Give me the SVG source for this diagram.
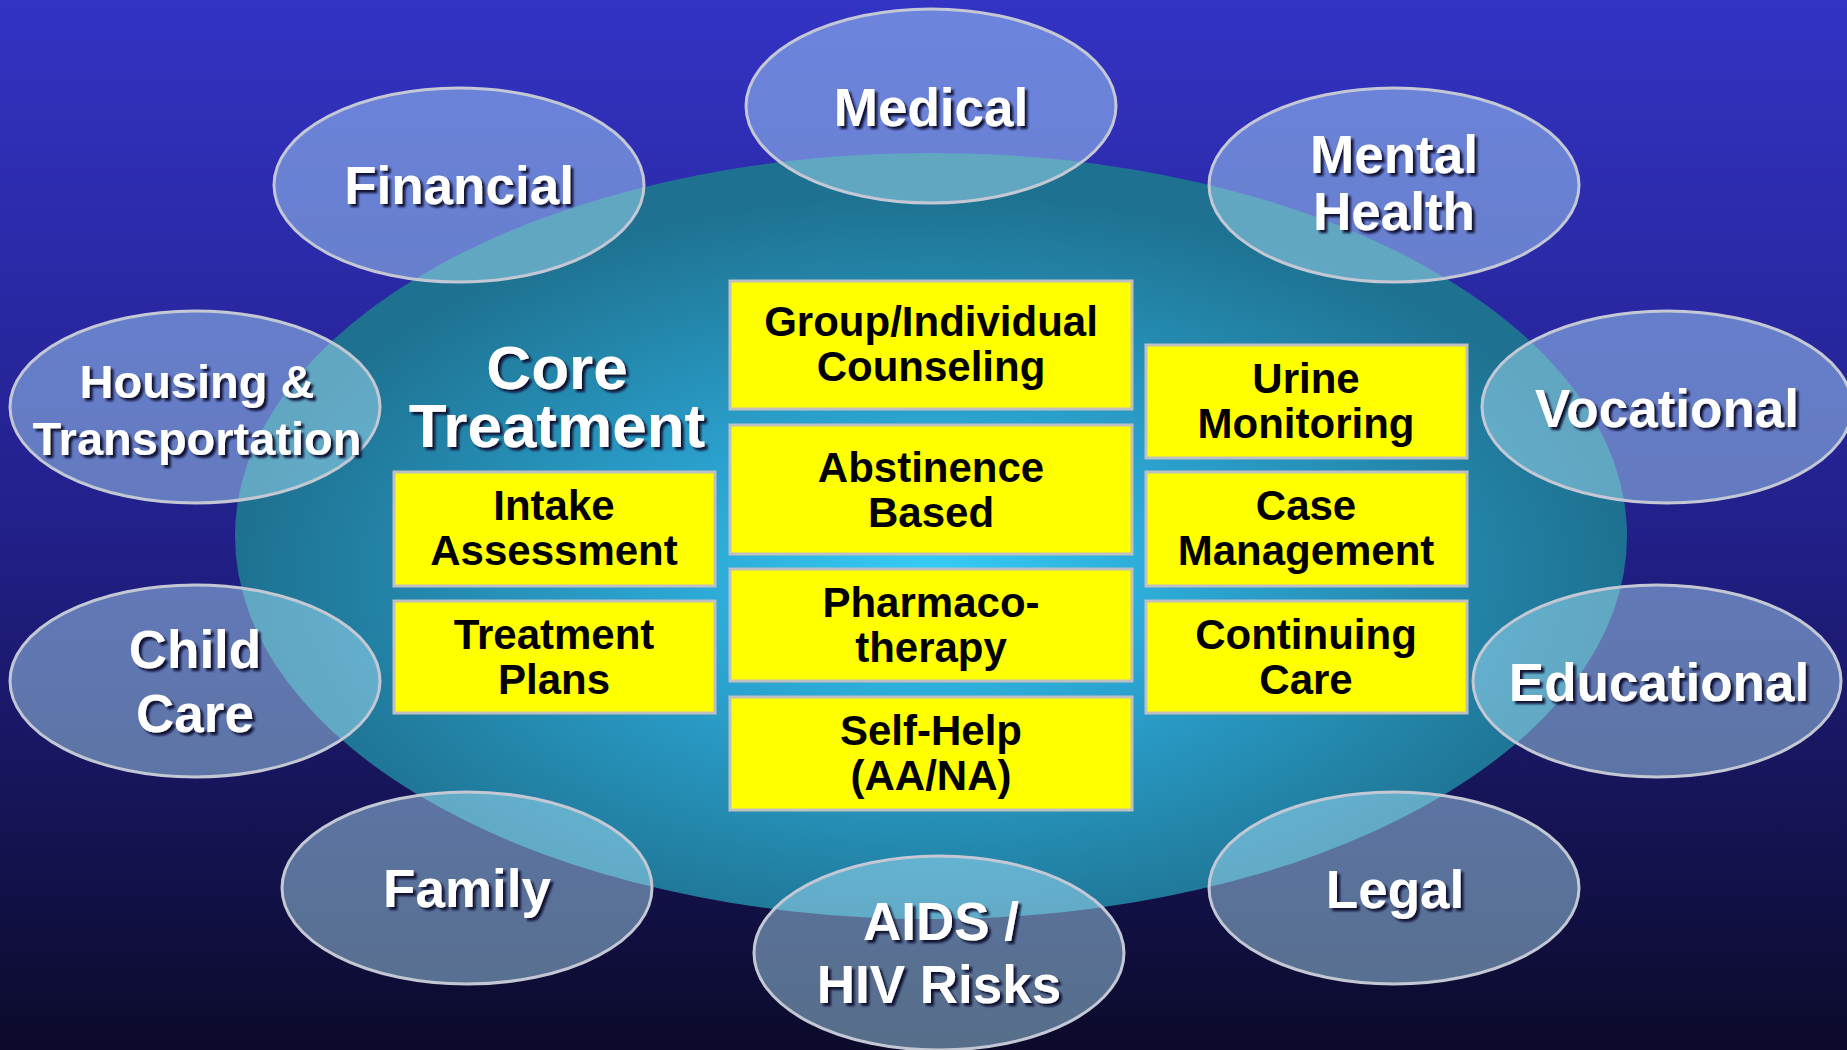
<svg xmlns="http://www.w3.org/2000/svg" width="1847" height="1050" viewBox="0 0 1847 1050">
<defs>
<linearGradient id="bg" x1="0" y1="0" x2="0" y2="1">
<stop offset="0" stop-color="#3333c4"/>
<stop offset="0.5" stop-color="#22208a"/>
<stop offset="1" stop-color="#0b0a2a"/>
</linearGradient>
<radialGradient id="core" cx="0.5" cy="0.55" r="0.5">
<stop offset="0" stop-color="#36cdf6"/>
<stop offset="0.4" stop-color="#2ba3d0"/>
<stop offset="1" stop-color="#1e7190"/>
</radialGradient>
<filter id="sh" x="-10%" y="-20%" width="130%" height="160%">
<feDropShadow dx="3" dy="3" stdDeviation="1.2" flood-color="#0a0a2e" flood-opacity="0.95"/>
</filter>
<style>
.sat{fill:#b4e8ff;fill-opacity:0.45;stroke:#c4c8d4;stroke-width:3}
.st{font-family:"Liberation Sans",Arial,sans-serif;font-weight:bold;font-size:53px;fill:#ffffff;text-anchor:middle;filter:url(#sh)}
.box{fill:#ffff00;stroke:#c0c0c0;stroke-width:3}
.bt{font-family:"Liberation Sans",Arial,sans-serif;font-weight:bold;font-size:42px;fill:#000000;text-anchor:middle}
.ct{font-family:"Liberation Sans",Arial,sans-serif;font-weight:bold;font-size:62px;fill:#ffffff;text-anchor:middle;filter:url(#sh)}
</style>
</defs>
<rect x="0" y="0" width="1847" height="1050" fill="url(#bg)"/>
<g id="core-treatment">
<ellipse cx="931" cy="536" rx="696" ry="383" fill="url(#core)"/>
<text class="ct" x="557" y="389">Core</text>
<text class="ct" x="557" y="447">Treatment</text>
</g>
<g id="box-group">
<rect class="box" x="730" y="281" width="402" height="128"/>
<text class="bt" x="931" y="336">Group/Individual</text>
<text class="bt" x="931" y="381">Counseling</text>
</g>
<g id="box-abstinence">
<rect class="box" x="730" y="425" width="402" height="129"/>
<text class="bt" x="931" y="482">Abstinence</text>
<text class="bt" x="931" y="527">Based</text>
</g>
<g id="box-pharmaco">
<rect class="box" x="730" y="569" width="402" height="112"/>
<text class="bt" x="931" y="617">Pharmaco-</text>
<text class="bt" x="931" y="662">therapy</text>
</g>
<g id="box-selfhelp">
<rect class="box" x="730" y="697" width="402" height="113"/>
<text class="bt" x="931" y="745">Self-Help</text>
<text class="bt" x="931" y="790">(AA/NA)</text>
</g>
<g id="box-intake">
<rect class="box" x="394" y="472" width="321" height="114"/>
<text class="bt" x="554" y="520">Intake</text>
<text class="bt" x="554" y="565">Assessment</text>
</g>
<g id="box-plans">
<rect class="box" x="394" y="601" width="321" height="112"/>
<text class="bt" x="554" y="649">Treatment</text>
<text class="bt" x="554" y="694">Plans</text>
</g>
<g id="box-urine">
<rect class="box" x="1146" y="345" width="321" height="113"/>
<text class="bt" x="1306" y="393">Urine</text>
<text class="bt" x="1306" y="438">Monitoring</text>
</g>
<g id="box-case">
<rect class="box" x="1146" y="472" width="321" height="114"/>
<text class="bt" x="1306" y="520">Case</text>
<text class="bt" x="1306" y="565">Management</text>
</g>
<g id="box-continuing">
<rect class="box" x="1146" y="601" width="321" height="112"/>
<text class="bt" x="1306" y="649">Continuing</text>
<text class="bt" x="1306" y="694">Care</text>
</g>
<g id="medical">
<ellipse class="sat" cx="931" cy="106" rx="185" ry="97"/>
<text class="st" x="931" y="126">Medical</text>
</g>
<g id="financial">
<ellipse class="sat" cx="459" cy="185" rx="185" ry="97"/>
<text class="st" x="459" y="204">Financial</text>
</g>
<g id="mental-health">
<ellipse class="sat" cx="1394" cy="185" rx="185" ry="97"/>
<text class="st" x="1394" y="173">Mental</text>
<text class="st" x="1394" y="230">Health</text>
</g>
<g id="housing">
<ellipse class="sat" cx="195" cy="407" rx="185" ry="96"/>
<text class="st" x="197" y="398" style="font-size:47px">Housing &amp;</text>
<text class="st" x="197" y="455" style="font-size:47px">Transportation</text>
</g>
<g id="vocational">
<ellipse class="sat" cx="1667" cy="407" rx="185" ry="96"/>
<text class="st" x="1667" y="427">Vocational</text>
</g>
<g id="child-care">
<ellipse class="sat" cx="195" cy="681" rx="185" ry="96"/>
<text class="st" x="195" y="668">Child</text>
<text class="st" x="195" y="732">Care</text>
</g>
<g id="educational">
<ellipse class="sat" cx="1657" cy="681" rx="184" ry="96"/>
<text class="st" x="1659" y="701">Educational</text>
</g>
<g id="family">
<ellipse class="sat" cx="467" cy="888" rx="185" ry="96"/>
<text class="st" x="467" y="907">Family</text>
</g>
<g id="legal">
<ellipse class="sat" cx="1394" cy="888" rx="185" ry="96"/>
<text class="st" x="1395" y="908">Legal</text>
</g>
<g id="aids-hiv">
<ellipse class="sat" cx="939" cy="953" rx="185" ry="97"/>
<text class="st" x="941" y="940">AIDS /</text>
<text class="st" x="939" y="1003">HIV Risks</text>
</g>
<g id="connectors"/>
</svg>
